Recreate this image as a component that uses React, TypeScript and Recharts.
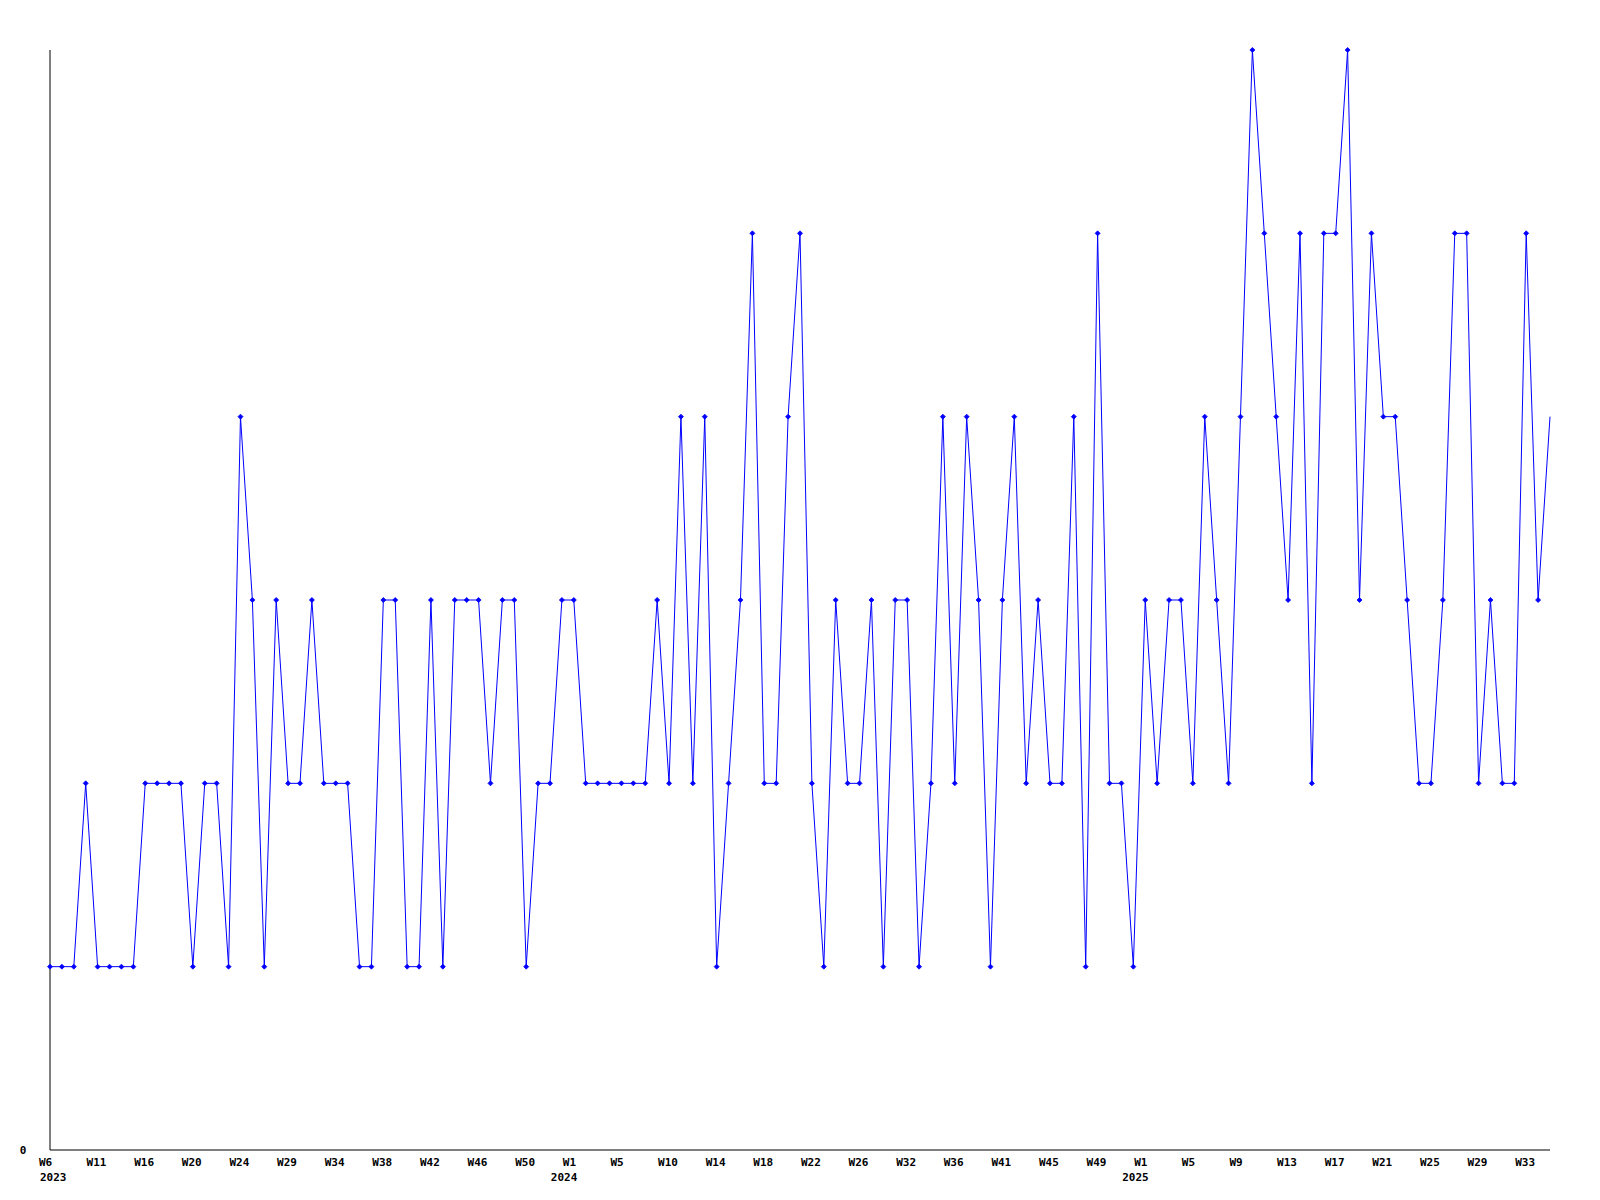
import { LineChart, Line, XAxis, YAxis } from 'recharts'

// week numbers per year, in the order they appear on the axis
const weeks2023 = [6, 7, 8, 9, 11, 12, 13, 14, 16, 17, 18, 19, 20, 21, 22, 23, 24, 25, 26, 27, 29, 30, 31, 32,
  34, 35, 36, 37, 38, 39, 40, 41, 42, 43, 44, 45, 46, 47, 48, 49, 50, 51, 52, 53]
const weeks2024 = [1, 2, 3, 4, 5, 6, 7, 8, 10, 11, 12, 13, 14, 15, 16, 17, 18, 19, 20, 21, 22, 23, 24, 25,
  26, 28, 29, 30, 32, 33, 34, 35, 36, 37, 38, 40, 41, 42, 43, 44, 45, 46, 47, 48, 49, 50, 51, 52]
const weeks2025 = [1, 2, 3, 4, 5, 6, 7, 8, 9, 10, 11, 12, 13, 14, 15, 16, 17, 18, 19, 20, 21, 22, 23, 24,
  25, 26, 27, 28, 29, 30, 31, 32, 33, 34, 35]

const counts2023 = [1, 1, 1, 2, 1, 1, 1, 1, 2, 2, 2, 2, 1, 2, 2, 1, 4, 3, 1, 3, 2, 2, 3, 2,
  2, 2, 1, 1, 3, 3, 1, 1, 3, 1, 3, 3, 3, 2, 3, 3, 1, 2, 2, 3]
const counts2024 = [3, 2, 2, 2, 2, 2, 2, 3, 2, 4, 2, 4, 1, 2, 3, 5, 2, 2, 4, 5, 2, 1, 3, 2,
  2, 3, 1, 3, 3, 1, 2, 4, 2, 4, 3, 1, 3, 4, 2, 3, 2, 2, 4, 1, 5, 2, 2, 1]
const counts2025 = [3, 2, 3, 3, 2, 4, 3, 2, 4, 6, 5, 4, 3, 5, 2, 5, 5, 6, 3, 5, 4, 4, 3, 2,
  2, 3, 5, 5, 2, 3, 2, 2, 5, 3, 4]

const yTicks = [0]

const build = (year: number, weeks: number[], counts: number[]) =>
  weeks.map((w, i) => ({ key: `${year}-W${w}`, year, week: w, count: counts[i] }))

const data = [
  ...build(2023, weeks2023, counts2023),
  ...build(2024, weeks2024, counts2024),
  ...build(2025, weeks2025, counts2025),
]

const FONT = '"DejaVu Sans Mono", monospace'
const BLUE = '#0000ff'

function WeekTick(props: any) {
  const { x, y, payload, index } = props
  const row = data.find((d) => d.key === payload.value)
  if (!row) return null
  const showYear = index === 0 || row.week === 1
  return (
    <g>
      <text x={x - 11} y={y} dy={8} textAnchor="start" fontFamily={FONT} fontWeight="bold" fontSize={11} fill="#000">
        {`W${row.week}`}
      </text>
      {showYear && (
        <text x={Math.max(x - 23, 40)} y={y} dy={23} textAnchor="start" fontFamily={FONT} fontWeight="bold"
          fontSize={11} fill="#000">
          {row.year}
        </text>
      )}
    </g>
  )
}

function ZeroTick(props: any) {
  const { y, payload } = props
  return (
    <text x={23} y={y} dy={4} textAnchor="middle" fontFamily={FONT} fontWeight="bold" fontSize={11} fill="#000">
      {payload.value}
    </text>
  )
}

function Marker(props: any) {
  const { cx, cy, index } = props
  if (index === data.length - 1 || cx == null) return <g key={index} />
  const r = 2.5
  return (
    <path key={index} d={`M${cx},${cy - r}L${cx + r},${cy}L${cx},${cy + r}L${cx - r},${cy}Z`}
      fill={BLUE} stroke={BLUE} strokeWidth={0.8} />
  )
}

export default function App() {
  return (
    <div style={{ position: 'absolute', left: 0, top: 0, background: '#fff' }}>
      <LineChart width={1600} height={1200} data={data} margin={{ top: 50, right: 50, left: 0, bottom: 0 }}>
        <XAxis dataKey="key" type="category" interval={3} height={50} tickLine={false}
          axisLine={{ stroke: '#000', strokeWidth: 1 }} tick={<WeekTick />} />
        <YAxis domain={[0, 6]} ticks={yTicks} width={50} tickLine={false}
          axisLine={{ stroke: '#000', strokeWidth: 1 }} tick={<ZeroTick />} />
        <Line type="linear" dataKey="count" stroke={BLUE} strokeWidth={1} dot={<Marker />}
          activeDot={false} isAnimationActive={false} />
      </LineChart>
    </div>
  )
}
